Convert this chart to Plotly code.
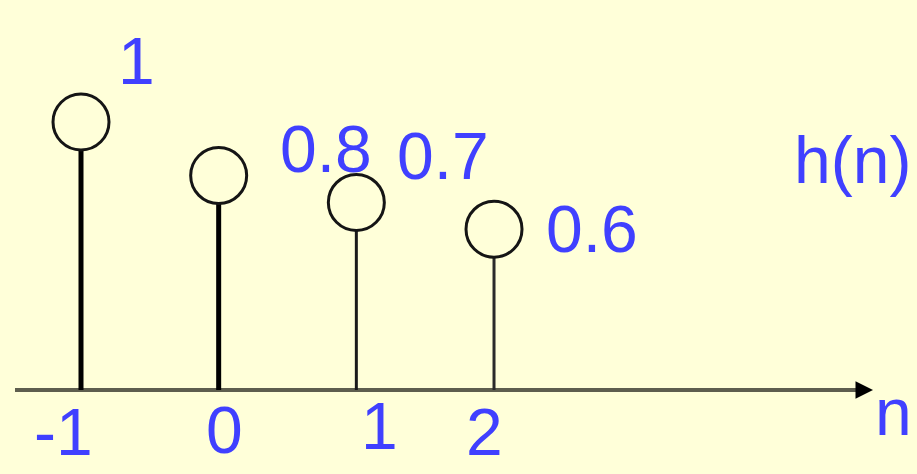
import plotly.graph_objects as go

# ---- data ----
n_values = [-1, 0, 1, 2]
h_values = [1.0, 0.8, 0.7, 0.6]
value_labels = ["1", "0.8", "0.7", "0.6"]
tick_labels = ["-1", "0", "1", "2"]
series_name = "h(n)"
axis_name = "n"

# ---- style ----
BG = "#FFFFD9"
BLUE = "#4040FF"
FONT = "Liberation Sans"
FS = 66
stem_widths = [5, 5, 3, 3]
stem_colors = ["#000000", "#000000", "#1a1a1a", "#2a2a2a"]
label_dx = [55, 107, 87, 98]      # px offset of value-label centre from marker
label_dy = [61, 27, 46, 0]        # px (up)
tick_dx = [-18, 6, 23, -10]
tick_dy = [-42, -40, -36, -42]

W, H = 917, 474
px_per_n = 137.67
px_per_h = 268.0
x0_px, axis_px = 81, 390
x_range = [-1 - x0_px / px_per_n, -1 + (W - x0_px) / px_per_n]
y_range = [-(H - axis_px) / px_per_h, axis_px / px_per_h]

fig = go.Figure()

# stems
for i, (n, h) in enumerate(zip(n_values, h_values)):
    fig.add_trace(go.Scatter(
        x=[n, n], y=[0, h], mode="lines",
        line=dict(color=stem_colors[i], width=stem_widths[i]),
        hoverinfo="skip", showlegend=False))

# markers
fig.add_trace(go.Scatter(
    x=n_values, y=h_values, mode="markers", name=series_name,
    marker=dict(symbol="circle", size=56, color=BG,
                line=dict(color="#151515", width=3)),
    showlegend=False))

annotations = []
for n, h, t, dx, dy in zip(n_values, h_values, value_labels, label_dx, label_dy):
    annotations.append(dict(x=n, y=h, xref="x", yref="y", text=t, showarrow=False,
                            xanchor="center", yanchor="middle", xshift=dx, yshift=dy,
                            font=dict(family=FONT, size=FS, color=BLUE)))
for n, t, dx, dy in zip(n_values, tick_labels, tick_dx, tick_dy):
    annotations.append(dict(x=n, y=0, xref="x", yref="y", text=t, showarrow=False,
                            xanchor="center", yanchor="middle", xshift=dx, yshift=dy,
                            font=dict(family=FONT, size=FS, color=BLUE)))
# series / axis names
annotations.append(dict(x=852 / W, y=1 - 160 / H, xref="paper", yref="paper", text=series_name,
                        showarrow=False, xanchor="center", yanchor="middle",
                        font=dict(family=FONT, size=FS, color=BLUE)))
annotations.append(dict(x=893 / W, y=1 - 412 / H, xref="paper", yref="paper", text=axis_name,
                        showarrow=False, xanchor="center", yanchor="middle",
                        font=dict(family=FONT, size=FS, color=BLUE)))
# arrow head of the n axis
annotations.append(dict(x=873 / W, y=0, xref="paper", yref="y", ax=-14, ay=0,
                        axref="pixel", ayref="pixel", text="", showarrow=True,
                        arrowhead=2, arrowsize=1.0, arrowwidth=3.5, arrowcolor="#000000"))

shapes = [dict(type="line", xref="paper", yref="y", x0=15 / W, x1=862 / W, y0=0, y1=0,
               line=dict(color="#5E5E4E", width=4), layer="below")]

fig.update_layout(
    width=W, height=H, margin=dict(l=0, r=0, t=0, b=0),
    paper_bgcolor=BG, plot_bgcolor=BG,
    xaxis=dict(range=x_range, visible=False, fixedrange=True),
    yaxis=dict(range=y_range, visible=False, fixedrange=True),
    annotations=annotations, shapes=shapes, showlegend=False)

fig.write_html("out.html", config={"displayModeBar": False},
               post_script="document.body.style.margin='0';document.body.style.overflow='hidden';")
